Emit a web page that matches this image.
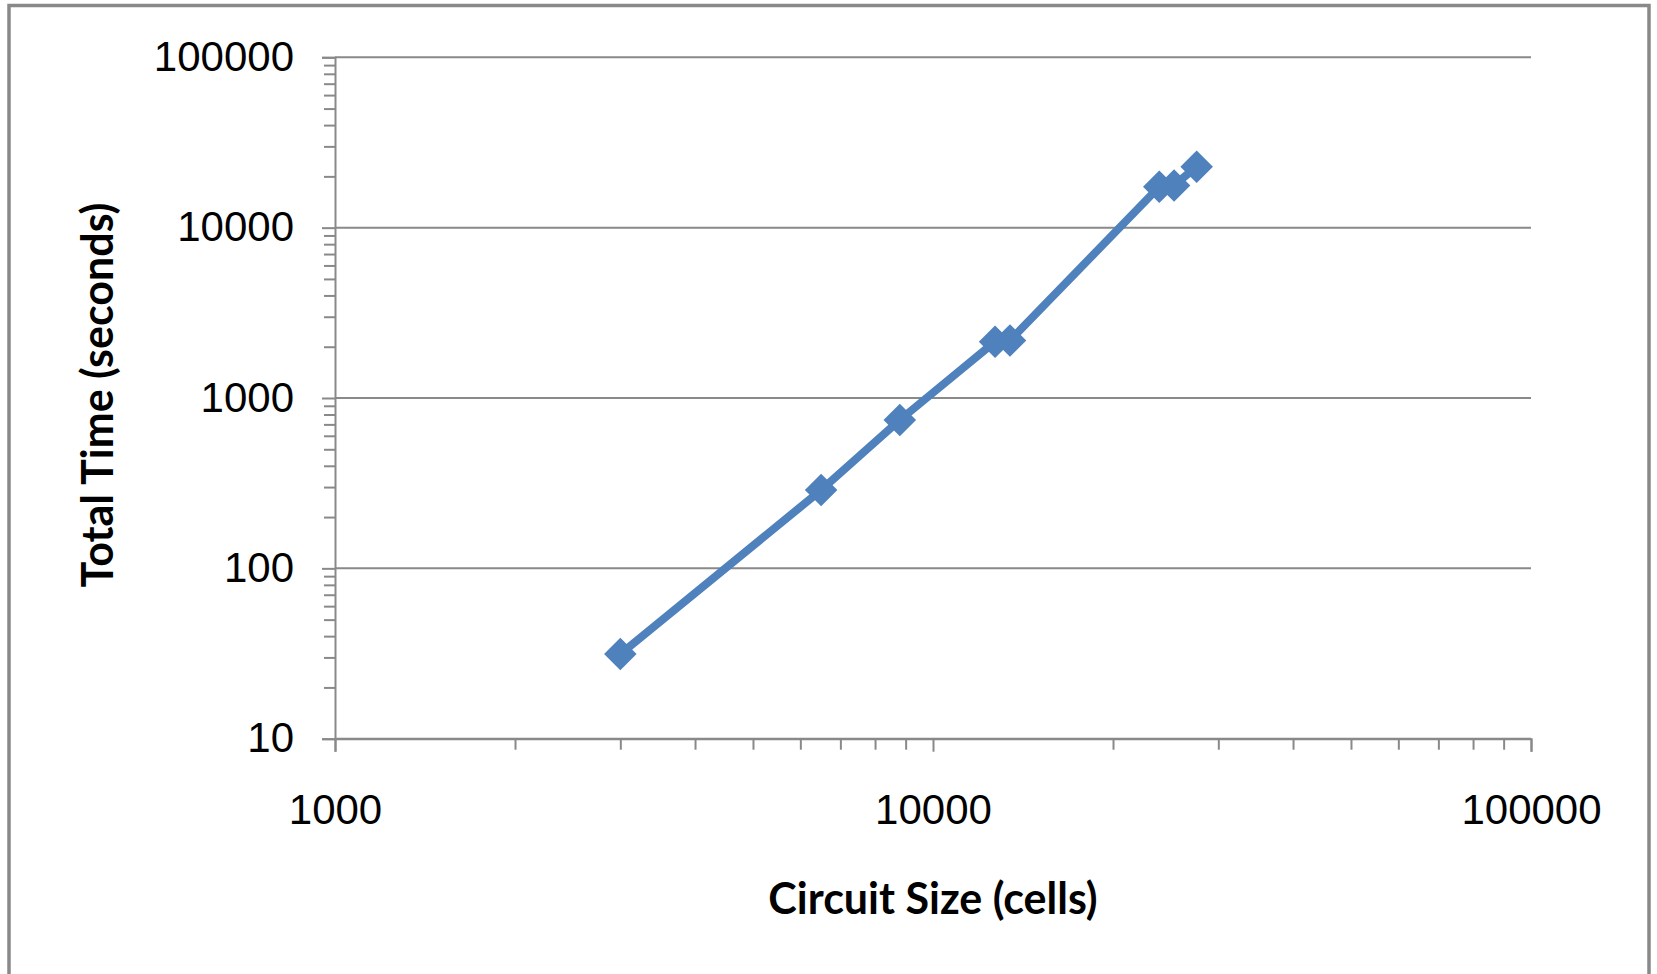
<!DOCTYPE html>
<html>
<head>
<meta charset="utf-8">
<script src="https://cdn.jsdelivr.net/npm/d3@7"></script>
<style>
  body { margin: 0; background: #fff; }
  svg { display: block; font-family: Lato, "Open Sans", sans-serif; }
</style>
</head>
<body>
<div id="chart"></div>
<script>
// Circuit size (cells) vs total run time (seconds), log-log
const circuitSize = [3000, 6500, 8800, 12700, 13450, 23900, 25300, 27600];
const totalTime = [31.4, 288, 743, 2140, 2175, 17400, 17700, 22800];

const xMajorTicks = [1000, 10000, 100000];
const yMajorTicks = [10, 100, 1000, 10000, 100000];

const xTitle = 'Circuit Size (cells)';
const yTitle = 'Total Time (seconds)';

const width = 1657;
const height = 974;
const plot = { left: 335, right: 1531, top: 57.3, bottom: 738.7 };

const blue = '#4F81BD';
const gray = '#898989';

const svg = d3
  .select('#chart')
  .append('svg')
  .attr('width', width)
  .attr('height', height);

// outer chart border (bottom edge runs off the picture)
svg
  .append('rect')
  .attr('x', 9)
  .attr('y', 5.5)
  .attr('width', 1640)
  .attr('height', 1000)
  .attr('fill', '#fff')
  .attr('stroke', gray)
  .attr('stroke-width', 3.5);

const x = d3
  .scaleLog()
  .domain([1000, 100000])
  .range([plot.left, plot.right]);

const y = d3
  .scaleLog()
  .domain([10, 100000])
  .range([plot.bottom, plot.top]);

const fmt = d3.format('d');

// horizontal gridlines at the decades
svg
  .append('g')
  .attr('class', 'grid')
  .selectAll('line')
  .data(yMajorTicks)
  .enter()
  .append('line')
  .attr('x1', plot.left)
  .attr('x2', plot.right)
  .attr('y1', (d) => y(d))
  .attr('y2', (d) => y(d))
  .attr('stroke', gray)
  .attr('stroke-width', 2);

// y axis, minor ticks at 2..9 of each decade
const yAxis = svg
  .append('g')
  .attr('transform', `translate(${plot.left},0)`)
  .call(
    d3
      .axisLeft(y)
      .tickValues(y.ticks())
      .tickSize(13)
      .tickPadding(28)
      .tickFormat((d) => (yMajorTicks.includes(d) ? fmt(d) : '')),
  );

yAxis.select('.domain').attr('stroke', gray).attr('stroke-width', 2);
yAxis
  .selectAll('.tick line')
  .attr('stroke', gray)
  .attr('stroke-width', 2)
  .attr('x2', (d) => (yMajorTicks.includes(d) ? -13 : -11));
yAxis
  .selectAll('.tick text')
  .attr('dy', null)
  .attr('y', 13)
  .style('font-size', '42px')
  .style('fill', '#000');

// x axis
const xAxis = svg
  .append('g')
  .attr('transform', `translate(0,${plot.bottom})`)
  .call(
    d3
      .axisBottom(x)
      .tickValues(x.ticks())
      .tickSize(13)
      .tickFormat((d) => (xMajorTicks.includes(d) ? fmt(d) : '')),
  );

xAxis.select('.domain').attr('stroke', gray).attr('stroke-width', 2);
xAxis
  .selectAll('.tick line')
  .attr('stroke', gray)
  .attr('stroke-width', 2)
  .attr('y2', (d) => (xMajorTicks.includes(d) ? 13 : 11));
xAxis
  .selectAll('.tick text')
  .attr('dy', null)
  .attr('y', 85)
  .style('font-size', '42px')
  .style('fill', '#000');

// axis titles
svg
  .append('text')
  .attr('x', (plot.left + plot.right) / 2)
  .attr('y', 914)
  .attr('text-anchor', 'middle')
  .style('font-size', '43px')
  .style('font-weight', 'bold')
  .text(xTitle);

svg
  .append('text')
  .attr('transform', 'translate(113,395) rotate(-90)')
  .attr('text-anchor', 'middle')
  .style('font-size', '43px')
  .style('font-weight', 'bold')
  .text(yTitle);

// series
const points = circuitSize.map((c, i) => ({ size: c, time: totalTime[i] }));

const line = d3
  .line()
  .x((d) => x(d.size))
  .y((d) => y(d.time));

svg
  .append('path')
  .datum(points)
  .attr('d', line)
  .attr('fill', 'none')
  .attr('stroke', blue)
  .attr('stroke-width', 8)
  .attr('stroke-linejoin', 'round');

const diamond = d3.symbol().type(d3.symbolSquare).size(530);

svg
  .append('g')
  .selectAll('path')
  .data(points)
  .enter()
  .append('path')
  .attr('d', diamond)
  .attr(
    'transform',
    (d) => `translate(${x(d.size)},${y(d.time)}) rotate(45)`,
  )
  .attr('fill', blue);
</script>
</body>
</html>
